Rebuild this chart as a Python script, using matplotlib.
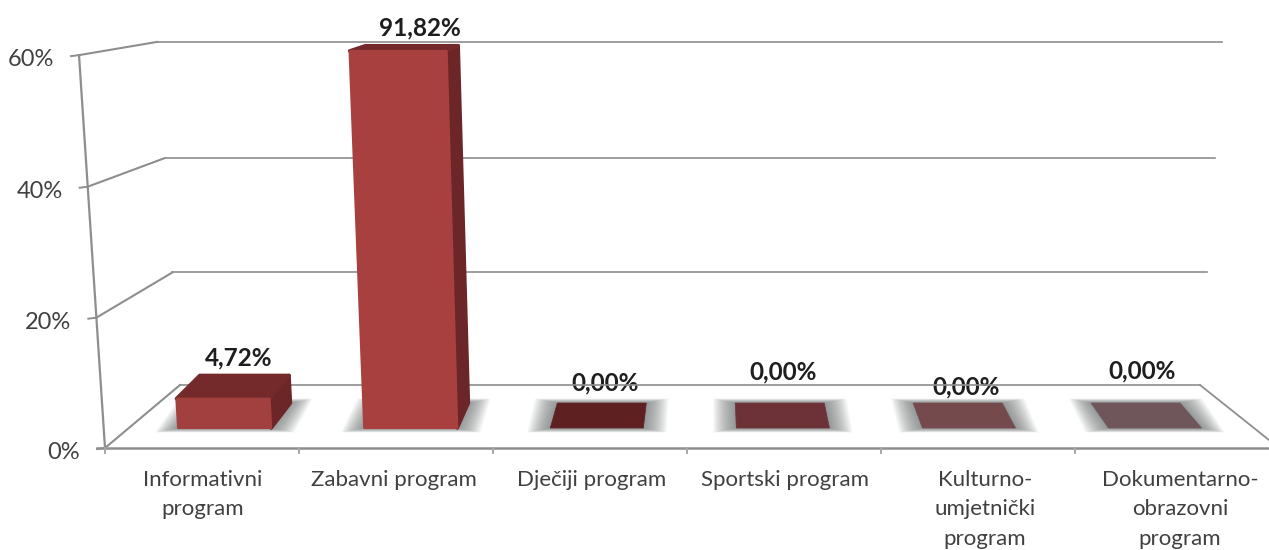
"""3D style column chart of programme shares"""

import matplotlib
matplotlib.use("Agg")
import matplotlib.pyplot as plt
from matplotlib.patches import Polygon

categories = [
    'Informativni\nprogram',
    'Zabavni program',
    'Dječiji program',
    'Sportski program',
    'Kulturno-\numjetnički\nprogram',
    'Dokumentarno-\nobrazovni\nprogram',
    ]
values = [4.72, 91.82, 0.0, 0.0, 0.0, 0.0]
value_labels = ['4,72%', '91,82%', '0,00%', '0,00%', '0,00%', '0,00%']
y_ticks = [0, 20, 40, 60]
y_max = 60

# layout only, in picture pixels
label_xy = [(239, 358), (420, 28), (605, 383), (783, 372), (966, 387), (1142, 371)]
tick_label_x = [203, 394, 592, 785, 985, 1180]
face_colors = ['#A23F3F', '#A8403F', '#5F2022', '#6C3238', '#744A4D', '#6E565A']
side_color = '#6C2627'
top_color = '#742A2B'
line_color = '#8E8E8E'
text_color = '#404040'

BAR_LEFT, BAR_RIGHT = 0.26, 0.76
BAR_FRONT, BAR_BACK = 0.33, 0.67
BAR_FRONT_Y, BAR_BACK_Y = 0.317, 0.714


def lerp(a, b, t):
    return a + (b - a) * t


def project(u, d, v=0, dy=None):
    """Category position u, depth d (0 front, 1 back), value v to pixels"""
    dy = d if dy is None else dy
    left = lerp(105, 180, d) - lerp(0.433, 0.383, d) * v
    right = lerp(1269, 1200, d) + lerp(0.42, 0.367, d) * v
    x = left + (right - left) * u / 6
    y = lerp(448, 385, dy) - lerp(6.5, 5.58, dy) * v - lerp(0.0008, 0.0023, dy) * v ** 2
    return x, y


def corner(u, back, v=0):
    """One corner of a bar box"""
    if back:
        return project(u, BAR_BACK, v, BAR_BACK_Y)
    return project(u, BAR_FRONT, v, BAR_FRONT_Y)


def draw_shadow(ax, i):
    """Soft shadow on the floor, as a stack of growing tiles"""
    steps = 24
    for k in range(steps, 0, -1):
        grow = k / steps
        du, dd = 0.125 * grow, 0.07 * grow
        pts = [
            project(i + BAR_LEFT - du, BAR_FRONT, 0, BAR_FRONT_Y - dd),
            project(i + BAR_RIGHT + du, BAR_FRONT, 0, BAR_FRONT_Y - dd),
            project(i + BAR_RIGHT + du, BAR_BACK, 0, BAR_BACK_Y + dd),
            project(i + BAR_LEFT - du, BAR_BACK, 0, BAR_BACK_Y + dd),
            ]
        ax.add_patch(Polygon(pts, closed=True, fc='#6A6E6E', ec='none',
                             alpha=0.045, zorder=1.5))


def draw_bar(ax, i, value, color):
    """Draw one box, the height is cut at the top of the axis"""
    v = min(value, y_max)
    l, r = i + BAR_LEFT, i + BAR_RIGHT
    style = dict(closed=True, lw=2.5, joinstyle='round', zorder=3)
    if v == 0:
        pts = [corner(l, 0), corner(r, 0), corner(r, 1), corner(l, 1)]
        ax.add_patch(Polygon(pts, fc=color, ec=color, **dict(style, lw=0.5)))
        return
    side = [corner(r, 0), corner(r, 1), corner(r, 1, v), corner(r, 0, v)]
    top = [corner(l, 0, v), corner(r, 0, v), corner(r, 1, v), corner(l, 1, v)]
    front = [corner(l, 0), corner(r, 0), corner(r, 0, v), corner(l, 0, v)]
    ax.add_patch(Polygon(side, fc=side_color, ec=side_color, **style))
    ax.add_patch(Polygon(top, fc=top_color, ec=top_color, **style))
    ax.add_patch(Polygon(front, fc=color, ec=color, **dict(style, lw=1.5)))


def draw_frame(ax):
    """Walls, floor, grid lines and ticks"""
    for v in y_ticks:
        x0, y0 = project(0, 0, v)
        x1, y1 = project(0, 1, v)
        x2, y2 = project(6, 1, v)
        ax.plot([x0 - 8, x0], [y0 + 1, y0], color=line_color, lw=1.4, zorder=2)
        ax.plot([x0, x1], [y0, y1], color=line_color, lw=1.5, zorder=2)
        ax.plot([x1, x2], [y1, y2], color=line_color, lw=1.2, zorder=2)
        ax.text(x0 - 25, y0 + 4.5, f'{v}%', ha='right', va='center', fontsize=17,
                color=text_color, family='Lato')

    # left front edge of the wall
    xa, ya = project(0, 0, 0)
    xb, yb = project(0, 0, y_max)
    ax.plot([xa, xb], [ya, yb], color=line_color, lw=1.6, zorder=2)

    # floor
    ax.plot([97, 1269], [ya - 0.5, ya - 0.5], color=line_color, lw=1.8, zorder=2)
    xc, yc = project(6, 1, 0)
    ax.plot([xc, 1269], [yc, 440], color=line_color, lw=1.3, zorder=2)
    for i in range(len(categories)):
        x, y = project(i, 0, 0)
        ax.plot([x, x], [y, y + 5], color='#A8A8A8', lw=1.4, zorder=2)


def main():
    fig = plt.figure(figsize=(12.69, 5.5), dpi=100)
    ax = fig.add_axes([0, 0, 1, 1])
    ax.set_xlim(0, 1269)
    ax.set_ylim(550, 0)
    ax.axis('off')

    draw_frame(ax)
    for i, value in enumerate(values):
        draw_shadow(ax, i)
        draw_bar(ax, i, value, face_colors[i])

    for (x, y), label in zip(label_xy, value_labels):
        ax.text(x, y, label, ha='center', va='center', fontsize=17.5,
                fontweight='bold', color='#1E1E1E', family='Lato', zorder=1)

    for x, label in zip(tick_label_x, categories):
        ax.text(x, 469.5, label, ha='center', va='top', fontsize=16,
                color=text_color, family='Lato', linespacing=1.62)

    fig.savefig('out.png', dpi=100)


if __name__ == "__main__":
    main()
